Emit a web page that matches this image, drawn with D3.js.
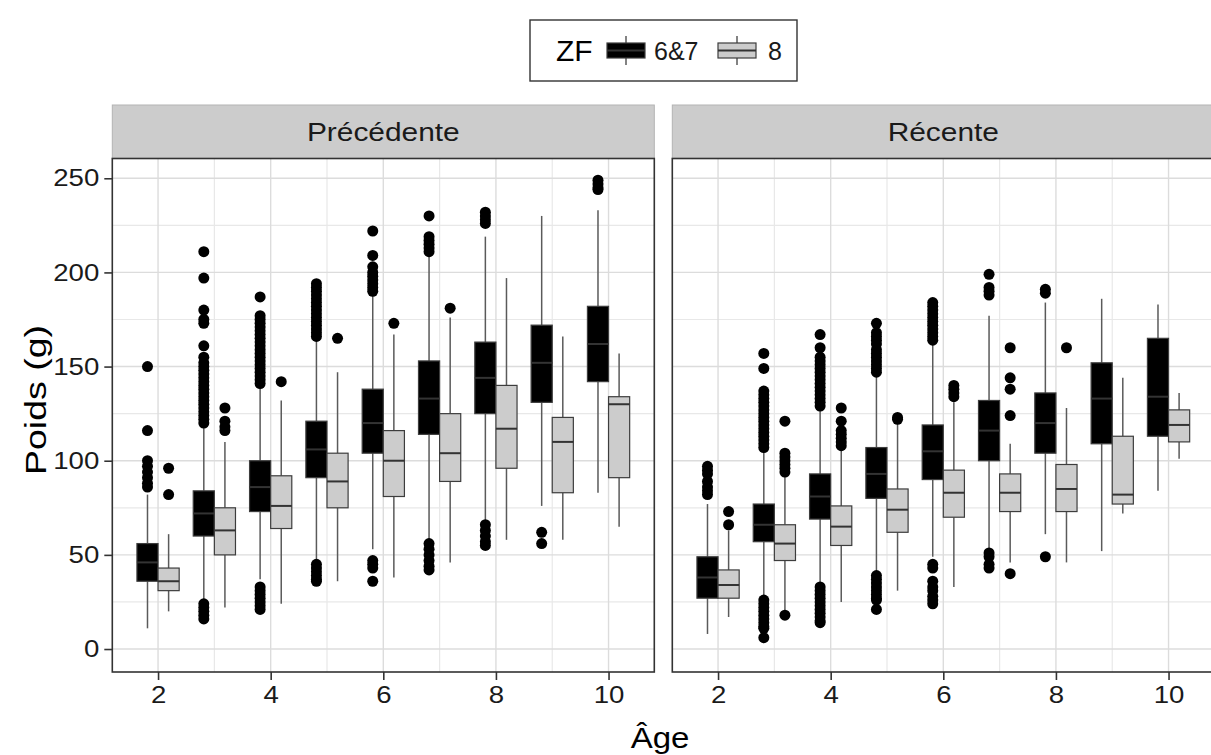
<!DOCTYPE html>
<html>
<head>
<meta charset="utf-8">
<script src="https://cdn.jsdelivr.net/npm/d3@7"></script>
<style>
  body { margin: 0; background: #fff; }
  svg { display: block; font-family: "Liberation Sans", Arial, sans-serif; }
</style>
</head>
<body>
<script>
// ages on the x axis, facets and groups
var ages = [2, 3, 4, 5, 6, 7, 8, 9, 10];
var facets = ["Précédente", "Récente"];
var groups = ["6&7", "8"];
var yTicks = [0, 50, 100, 150, 200, 250];
var xTicks = [2, 4, 6, 8, 10];

// box stats per age: [lower whisker, q1, median, q3, upper whisker]
var prec67 = [
  [11, 36, 46, 56, 82], [25, 60, 72, 84, 119], [37, 73, 86, 100, 139],
  [47, 91, 106, 121, 165], [53, 104, 120, 138, 188], [57, 114, 133, 153, 210],
  [68, 125, 144, 163, 219], [76, 131, 152, 172, 230], [83, 142, 162, 182, 233]
];
var prec8 = [
  [20, 31, 36, 43, 61], [22, 50, 63, 75, 110], [24, 64, 76, 92, 132],
  [36, 75, 89, 104, 147], [38, 81, 100, 116, 167], [46, 89, 104, 125, 176],
  [58, 96, 117, 140, 197], [58, 83, 110, 123, 166], [65, 91, 130, 134, 157]
];
var rec67 = [
  [8, 27, 38, 49, 77], [28, 57, 66, 77, 106], [35, 69, 81, 93, 128],
  [41, 80, 93, 107, 146], [49, 90, 105, 119, 162], [53, 100, 116, 132, 177],
  [61, 104, 120, 136, 184], [52, 109, 133, 152, 186], [84, 113, 134, 165, 183]
];
var rec8 = [
  [17, 27, 34, 42, 63], [19, 47, 56, 66, 92], [25, 55, 65, 76, 106],
  [31, 62, 74, 85, 120], [33, 70, 83, 95, 131], [46, 73, 83, 93, 109],
  [46, 73, 85, 98, 128], [72, 77, 82, 113, 144], [101, 110, 119, 127, 136]
];

// outliers per age
var prec67Out = [
  [150, 116, 100, 97, 94, 91, 88, 86],
  [211, 197, 180, 175, 173, 161, 155, 152, 150, 148, 146, 144, 142, 140, 138, 136, 134, 132, 130, 128, 126, 124, 122, 120, 24, 22, 20, 18, 16],
  [187, 177, 175, 173, 171, 169, 167, 165, 163, 161, 159, 157, 155, 153, 151, 149, 147, 145, 143, 141, 33, 31, 29, 27, 25, 23, 21],
  [194, 192, 190, 188, 186, 184, 182, 180, 178, 176, 174, 172, 170, 168, 166, 45, 43, 41, 39, 37, 36],
  [222, 209, 203, 200, 198, 196, 194, 192, 190, 47, 45, 43, 36],
  [230, 219, 217, 215, 213, 211, 56, 53, 50, 47, 44, 42],
  [232, 230, 228, 226, 66, 63, 60, 57, 55],
  [62, 56],
  [249, 247, 245, 244]
];
var prec8Out = [
  [96, 82], [128, 121, 118, 116], [142], [165], [173], [181], [], [], []
];
var rec67Out = [
  [97, 95, 93, 89, 86, 84, 82],
  [157, 149, 137, 135, 133, 131, 129, 127, 125, 123, 121, 119, 117, 115, 113, 111, 109, 107, 26, 24, 22, 20, 18, 16, 14, 12, 11, 6],
  [167, 160, 155, 153, 151, 149, 147, 145, 143, 141, 139, 137, 135, 133, 131, 129, 33, 31, 29, 27, 25, 23, 21, 19, 17, 15, 14],
  [173, 168, 166, 164, 162, 159, 157, 155, 153, 151, 149, 147, 39, 37, 35, 33, 31, 29, 27, 26, 21],
  [184, 182, 180, 178, 176, 174, 172, 170, 168, 166, 164, 45, 43, 36, 33, 31, 28, 26, 24],
  [199, 192, 190, 188, 51, 49, 45, 43],
  [191, 189, 49],
  [],
  []
];
var rec8Out = [
  [73, 66], [121, 104, 102, 100, 98, 96, 94, 18], [128, 121, 116, 114, 112, 110, 108],
  [123, 122], [140, 138, 136, 134], [160, 144, 138, 124, 40], [160], [], []
];

var stats = [[prec67, prec8], [rec67, rec8]];
var outs = [[prec67Out, prec8Out], [rec67Out, rec8Out]];
var fills = ["#000000", "#cccccc"];

var W = 1211, H = 755;
var panelX = [[112.3, 654.3], [672.3, 1214.3]];
var pTop = 158.5, pBottom = 672, stripTop = 105;
var stretch = 1.15; // reference text is drawn a bit wider than Arial

var svg = d3.select("body").append("svg")
    .attr("width", W)
    .attr("height", H);

var y = d3.scaleLinear().domain([-12.2, 260.5]).range([pBottom, pTop]);
var boxW = 0.375;

facets.forEach(function(facet, f) {
  var x = d3.scaleLinear().domain([1.1875, 10.8125]).range(panelX[f]);
  var g = svg.append("g");
  var pw = panelX[f][1] - panelX[f][0];
  var cxStrip = (panelX[f][0] + panelX[f][1]) / 2;

  // strip
  g.append("rect")
      .attr("x", panelX[f][0]).attr("y", stripTop)
      .attr("width", pw).attr("height", pTop - stripTop)
      .attr("fill", "#cccccc").attr("stroke", "#b3b3b3").attr("stroke-width", 1);
  g.append("text")
      .attr("transform", "translate(" + cxStrip + "," + (stripTop + pTop) / 2 + ") scale(" + stretch + ",1)")
      .attr("dy", "0.36em")
      .attr("text-anchor", "middle")
      .attr("font-size", 26)
      .attr("fill", "#1a1a1a")
      .text(facet);

  // grid
  var minorX = [3, 5, 7, 9], minorY = [25, 75, 125, 175, 225];
  g.selectAll(".mx").data(minorX).enter().append("line")
      .attr("x1", d => x(d)).attr("x2", d => x(d)).attr("y1", pTop).attr("y2", pBottom)
      .attr("stroke", "#e8e8e8").attr("stroke-width", 1.2);
  g.selectAll(".my").data(minorY).enter().append("line")
      .attr("x1", panelX[f][0]).attr("x2", panelX[f][1]).attr("y1", d => y(d)).attr("y2", d => y(d))
      .attr("stroke", "#e8e8e8").attr("stroke-width", 1.2);
  g.selectAll(".gx").data(xTicks).enter().append("line")
      .attr("x1", d => x(d)).attr("x2", d => x(d)).attr("y1", pTop).attr("y2", pBottom)
      .attr("stroke", "#dcdcdc").attr("stroke-width", 1.4);
  g.selectAll(".gy").data(yTicks).enter().append("line")
      .attr("x1", panelX[f][0]).attr("x2", panelX[f][1]).attr("y1", d => y(d)).attr("y2", d => y(d))
      .attr("stroke", "#dcdcdc").attr("stroke-width", 1.4);

  // boxplots
  groups.forEach(function(grp, k) {
    var off = k === 0 ? -boxW / 2 : boxW / 2;
    ages.forEach(function(age, i) {
      var s = stats[f][k][i];
      var cx = x(age + off);
      var x0 = x(age + off - boxW / 2), x1 = x(age + off + boxW / 2);
      var bg = g.append("g");
      bg.append("line").attr("x1", cx).attr("x2", cx).attr("y1", y(s[0])).attr("y2", y(s[1]))
          .attr("stroke", "#5a5a5a").attr("stroke-width", 1.5);
      bg.append("line").attr("x1", cx).attr("x2", cx).attr("y1", y(s[3])).attr("y2", y(s[4]))
          .attr("stroke", "#5a5a5a").attr("stroke-width", 1.5);
      bg.append("rect")
          .attr("x", x0).attr("y", y(s[3]))
          .attr("width", x1 - x0).attr("height", y(s[1]) - y(s[3]))
          .attr("fill", fills[k]).attr("stroke", "#3d3d3d").attr("stroke-width", 1.2);
      bg.append("line").attr("x1", x0).attr("x2", x1).attr("y1", y(s[2])).attr("y2", y(s[2]))
          .attr("stroke", "#333").attr("stroke-width", 2);
      bg.selectAll("circle").data(outs[f][k][i]).enter().append("circle")
          .attr("cx", cx).attr("cy", d => y(d)).attr("r", 5.5)
          .attr("fill", "#000");
    });
  });

  // panel border
  g.append("rect")
      .attr("x", panelX[f][0]).attr("y", pTop)
      .attr("width", pw).attr("height", pBottom - pTop)
      .attr("fill", "none").attr("stroke", "#333").attr("stroke-width", 1.6);

  // x axis
  var xa = g.append("g").attr("transform", "translate(0," + pBottom + ")")
      .call(d3.axisBottom(x).tickValues(xTicks).tickSize(8).tickPadding(6).tickFormat(d3.format("d")));
  xa.select(".domain").remove();
  xa.selectAll("line").attr("stroke", "#333").attr("stroke-width", 1.6);
  xa.selectAll("text").attr("font-size", 24).attr("fill", "#1a1a1a")
      .attr("font-family", "Liberation Sans, Arial, sans-serif")
      .attr("transform", "scale(" + stretch + ",1)");

  if (f === 0) {
    var ya = g.append("g").attr("transform", "translate(" + panelX[f][0] + ",0)")
        .call(d3.axisLeft(y).tickValues(yTicks).tickSize(8).tickPadding(5));
    ya.select(".domain").remove();
    ya.selectAll("line").attr("stroke", "#333").attr("stroke-width", 1.6);
    ya.selectAll("text").attr("font-size", 24).attr("fill", "#1a1a1a")
        .attr("font-family", "Liberation Sans, Arial, sans-serif")
        .attr("x", -13 / stretch)
        .attr("transform", "scale(" + stretch + ",1)");
  }
});

// axis titles
svg.append("text")
    .attr("transform", "translate(660,737) scale(1.1,1)")
    .attr("dy", "0.36em")
    .attr("text-anchor", "middle").attr("font-size", 30).attr("fill", "#000")
    .text("Âge");
svg.append("text")
    .attr("transform", "translate(35,400) rotate(-90) scale(1.25,1)")
    .attr("dy", "0.36em")
    .attr("text-anchor", "middle").attr("font-size", 30).attr("fill", "#000")
    .text("Poids (g)");

// legend
var lg = svg.append("g");
lg.append("rect").attr("x", 530).attr("y", 20).attr("width", 267).attr("height", 61)
    .attr("fill", "#fff").attr("stroke", "#333").attr("stroke-width", 1.4);
lg.append("text").attr("x", 556).attr("y", 50).attr("dy", "0.36em")
    .attr("font-size", 30).attr("fill", "#000").text("ZF");
var keyX = [607, 718], labX = [654, 768];
groups.forEach(function(grp, k) {
  var kx = keyX[k], kw = 38, kc = kx + kw / 2;
  lg.append("line").attr("x1", kc).attr("x2", kc).attr("y1", 36).attr("y2", 65)
      .attr("stroke", "#5a5a5a").attr("stroke-width", 1.5);
  lg.append("rect").attr("x", kx).attr("y", 43).attr("width", kw).attr("height", 15)
      .attr("fill", fills[k]).attr("stroke", "#3d3d3d").attr("stroke-width", 1.2);
  lg.append("line").attr("x1", kx).attr("x2", kx + kw).attr("y1", 50.5).attr("y2", 50.5)
      .attr("stroke", "#333").attr("stroke-width", 2);
  lg.append("text").attr("x", labX[k]).attr("y", 51).attr("dy", "0.36em")
      .attr("font-size", 25).attr("fill", "#1a1a1a").text(grp);
});
</script>
</body>
</html>
